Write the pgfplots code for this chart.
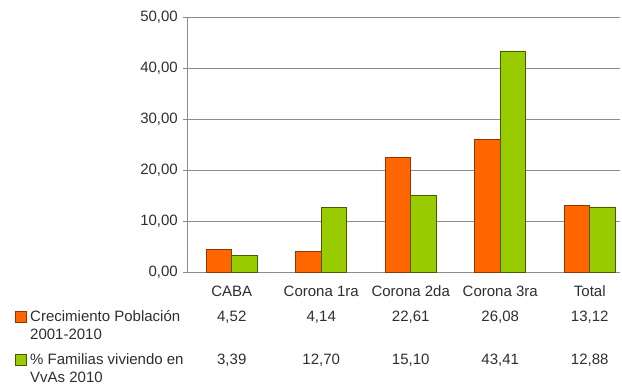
\documentclass[border=0pt]{standalone}
\usepackage{pgfplots}
\pgfplotsset{compat=1.18}
\usepackage{fontspec}
\setmainfont{Liberation Sans}
\definecolor{barorange}{HTML}{FF6600}
\definecolor{bargreen}{HTML}{99CC00}
\definecolor{txt}{HTML}{2E2E2E}
\definecolor{gridc}{HTML}{8C8C8C}
\begin{document}
\fontsize{15}{18}\selectfont
\begin{tikzpicture}[x=1pt,y=1pt]
\useasboundingbox (-187,-112.3) rectangle (435,272.7);
\begin{axis}[
  at={(0,0)}, anchor=south west,
  scale only axis, width=433pt, height=255.4pt,
  xmin=-0.5, xmax=4.338, ymin=0, ymax=50,
  ybar=0pt, bar width=25.5pt,
  axis lines*=left,
  axis line style={gridc, line width=0.8pt},
  ymajorgrids, grid style={gridc, line width=0.8pt},
  ytick={0,10,...,50},
  xtick={0,1,2,3,4},
  xticklabels={CABA,Corona 1ra,Corona 2da,Corona 3ra,Total},
  x tick style={draw=none},
  y tick style={gridc, line width=0.8pt},
  tick align=outside, major tick length=4pt,
  ticklabel style={font=\fontsize{15}{18}\selectfont, text=txt},
  xticklabel style={anchor=base, yshift=-20.3pt},
  /pgf/number format/.cd, fixed, fixed zerofill, precision=2, use comma, assume math mode=true,
]
\addplot[fill=barorange, draw=barorange!55!black, line width=0.7pt] coordinates {(0,4.52)(1,4.14)(2,22.61)(3,26.08)(4,13.12)};
\addplot[fill=bargreen, draw=bargreen!45!black, line width=0.7pt] coordinates {(0,3.39)(1,12.70)(2,15.10)(3,43.41)(4,12.88)};
\end{axis}
\foreach \i/\a/\b in {0/{4,52}/{3,39},1/{4,14}/{12,70},2/{22,61}/{15,10},3/{26,08}/{43,41},4/{13,12}/{12,88}}{
  \node[anchor=base, text=txt, inner sep=0pt] at ({(\i+0.5)*89.5},-49.3) {\a};
  \node[anchor=base, text=txt, inner sep=0pt] at ({(\i+0.5)*89.5},-92.3) {\b};
}
\draw[fill=barorange, draw=barorange!55!black, line width=0.6pt] (-172,-49.3) rectangle (-161,-38.3);
\draw[fill=bargreen, draw=bargreen!45!black, line width=0.6pt] (-172,-92.3) rectangle (-161,-81.3);
\node[anchor=base west, text=txt, inner sep=0pt] at (-157,-49.3) {Crecimiento Población};
\node[anchor=base west, text=txt, inner sep=0pt] at (-157,-67.3) {2001-2010};
\node[anchor=base west, text=txt, inner sep=0pt] at (-157,-92.3) {\% Familias viviendo en};
\node[anchor=base west, text=txt, inner sep=0pt] at (-157,-110.3) {VvAs 2010};
\end{tikzpicture}
\end{document}
